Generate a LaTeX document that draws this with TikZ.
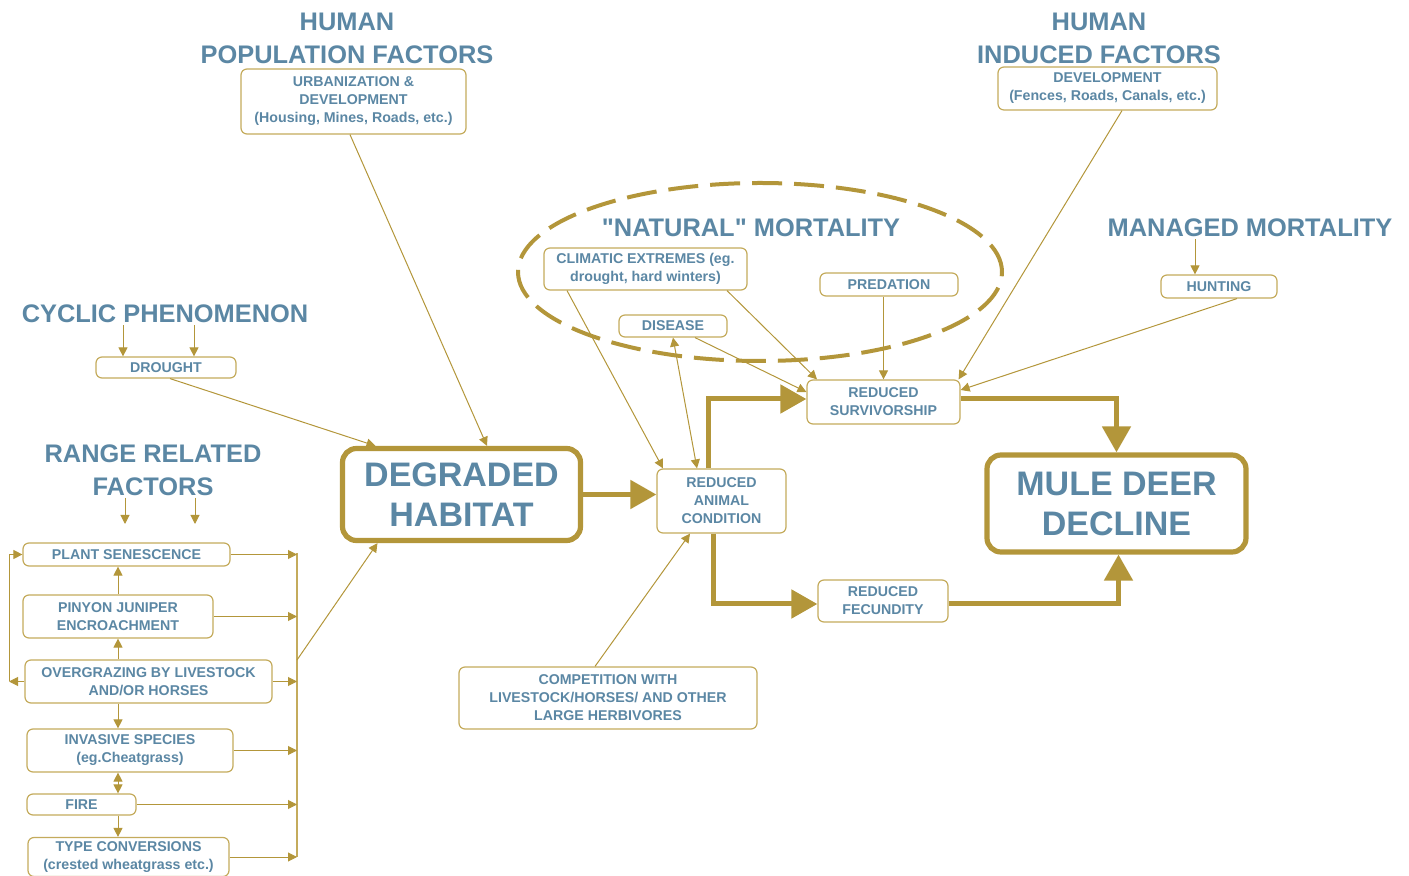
\documentclass[tikz,border=0pt]{standalone}
\usepackage{fontspec}
\setmainfont{Liberation Sans}[Ligatures=TeXOff]
\usetikzlibrary{arrows.meta, calc}
\usepackage{xcolor}
\definecolor{gold}{HTML}{B3963A}
\definecolor{goldline}{HTML}{C4AB5C}
\definecolor{slate}{HTML}{5B87A4}

\tikzset{
  factor/.style={draw=goldline, line width=0.6pt, rounded corners=3pt, fill=white,
    align=center, inner sep=0pt, text=slate, font=\bfseries\fontsize{7.1}{9}\selectfont},
  heading/.style={align=center, inner sep=1pt, text=slate,
    font=\bfseries\fontsize{12.7}{16.5}\selectfont},
  outcome/.style={draw=gold, line width=2.6pt, rounded corners=7pt, fill=white,
    align=center, inner sep=0pt, text=slate, font=\bfseries\fontsize{17}{20}\selectfont},
  link/.style={draw=gold, line width=0.5pt, -{Triangle[length=4.5pt,width=4.5pt]}},
  flow/.style={draw=gold, line width=2.5pt, -{Triangle[length=13pt,width=14pt]}},
}

\begin{document}
\begin{tikzpicture}[x=0.5pt, y=-0.5pt]
\useasboundingbox (0,0) rectangle (1409,876);

% headings
\node[heading] (hpop) at (347,38) {HUMAN\\POPULATION FACTORS};
\node[heading] (hind) at (1099,38) {HUMAN\\INDUCED FACTORS};
\node[heading] (natural) at (751,228) {"NATURAL" MORTALITY};
\node[heading] (managed) at (1250,228) {MANAGED MORTALITY};
\node[heading] (cyclic) at (165,314) {CYCLIC PHENOMENON};
\node[heading] (range) at (153,470) {RANGE RELATED\\FACTORS};

% natural mortality ring
\draw[gold, line width=2pt, dash pattern=on 15pt off 6pt] (760,272) ellipse [x radius=121pt, y radius=44.5pt];

% factor boxes
\node[factor, minimum width=112.5pt, minimum height=32.5pt] (urban) at (353.5,101.5) {URBANIZATION \&\\DEVELOPMENT\\(Housing, Mines, Roads, etc.)};
\node[factor, minimum width=109.5pt, minimum height=21.5pt] (devel) at (1107.5,88.5) {DEVELOPMENT\\(Fences, Roads, Canals, etc.)};
\node[factor, minimum width=101.5pt, minimum height=21pt] (climatic) at (645.5,269) {CLIMATIC EXTREMES (eg.\\drought, hard winters)};
\node[factor, minimum width=69pt, minimum height=11.5pt] (predation) at (889,284.5) {PREDATION};
\node[factor, minimum width=54pt, minimum height=11pt] (disease) at (673,326) {DISEASE};
\node[factor, minimum width=58pt, minimum height=11.5pt] (hunting) at (1219,286.5) {HUNTING};
\node[factor, minimum width=70pt, minimum height=10.5pt] (drought) at (166,367.5) {DROUGHT};
\node[factor, minimum width=76.5pt, minimum height=22pt] (surv) at (883.5,402) {REDUCED\\SURVIVORSHIP};
\node[factor, minimum width=64.5pt, minimum height=32pt] (animal) at (721.5,501) {REDUCED\\ANIMAL\\CONDITION};
\node[factor, minimum width=65pt, minimum height=21pt] (fec) at (883,601) {REDUCED\\FECUNDITY};
\node[factor, minimum width=149pt, minimum height=31pt] (comp) at (608,698) {COMPETITION WITH\\LIVESTOCK/HORSES/ AND OTHER\\LARGE HERBIVORES};

% range related factors
\node[factor, minimum width=103.5pt, minimum height=11.5pt] (plant) at (126.5,554.5) {PLANT SENESCENCE};
\node[factor, minimum width=95pt, minimum height=21.5pt] (pinyon) at (118,616.5) {PINYON JUNIPER\\ENCROACHMENT};
\node[factor, minimum width=123.5pt, minimum height=21.5pt] (over) at (148.5,681.5) {OVERGRAZING BY LIVESTOCK\\AND/OR HORSES};
\node[factor, minimum width=103pt, minimum height=21.5pt] (invasive) at (130,750.5) {INVASIVE SPECIES\\(eg.Cheatgrass)};
\node[factor, minimum width=54.5pt, minimum height=10.5pt] (fire) at (81.5,804.5) {FIRE};
\node[factor, minimum width=100.5pt, minimum height=19.5pt] (type) at (128.5,857) {TYPE CONVERSIONS\\(crested wheatgrass etc.)};

% outcomes
\node[outcome, minimum width=119pt, minimum height=46pt] (degraded) at (461.5,494.5) {DEGRADED\\HABITAT};
\node[outcome, minimum width=129.5pt, minimum height=48.5pt] (mule) at (1116.5,503.5) {MULE DEER\\DECLINE};

% heading arrows
\draw[link] ([xshift=-21.5pt]drought.north |- cyclic.south) -- ([xshift=-21.5pt]drought.north);
\draw[link] ([xshift=14pt]drought.north |- cyclic.south) -- ([xshift=14pt]drought.north);
\coordinate (rng1) at (125,524);
\coordinate (rng2) at (195,524);
\draw[link] (range.south -| rng1) -- (rng1);
\draw[link] (range.south -| rng2) -- (rng2);
\draw[link] ([xshift=-12pt]hunting.north |- managed.south) -- ([xshift=-12pt]hunting.north);

% range collector
\coordinate (bar) at (297,553);
\coordinate (barend) at (297,857);
\coordinate (barmid) at (297,660);
\draw[goldline, line width=0.6pt] (bar) -- (barend);
\foreach \n in {plant,pinyon,over,invasive,fire,type}
  \draw[link] (\n.east) -- (\n.east -| bar);
\draw[link] (barmid) -- ([xshift=-42pt]degraded.south);

\coordinate (loop) at (9,683);
\draw[link] (over.west) -- (over.west -| loop);
\draw[link] (over.west -| loop) |- (plant.west);
\draw[link] (pinyon.north) -- (pinyon.north |- plant.south);
\draw[link] (over.north -| pinyon.north) -- (pinyon.south);
\draw[link] (over.south -| pinyon.south) -- (invasive.north -| pinyon.south);
\draw[link, {Triangle[length=4.5pt,width=4.5pt]}-{Triangle[length=4.5pt,width=4.5pt]}] (invasive.south -| pinyon.south) -- (fire.north -| pinyon.south);
\draw[link] (fire.south -| pinyon.south) -- (type.north -| pinyon.south);

% into degraded habitat
\draw[link] ([xshift=-1.75pt]urban.south) -- ([xshift=12.75pt]degraded.north);
\draw[link] ([xshift=2pt]drought.south) -- ([xshift=-43pt]degraded.north);

% into animal condition and survivorship
\draw[link] ([xshift=-39.25pt]climatic.south) -- ([xshift=-29.25pt]animal.north);
\draw[link, {Triangle[length=4.5pt,width=4.5pt]}-{Triangle[length=4.5pt,width=4.5pt]}] (disease.south) -- ([xshift=-12.25pt]animal.north);
\draw[link] ([xshift=40.75pt]climatic.south) -- ([xshift=-33.25pt]surv.north);
\draw[link] ([xshift=11pt]disease.south) -- ([yshift=5pt]surv.west);
\draw[link] (predation.south -| surv.north) -- (surv.north);
\draw[link] ([xshift=7.25pt]devel.south) -- ([xshift=-1pt]surv.north east);
\draw[link] ([xshift=9pt]hunting.south) -- ([yshift=6pt]surv.east);
\draw[link] ([xshift=-6.5pt]comp.north) -- ([xshift=-15.75pt]animal.south);

% main flow
\draw[flow] (degraded.east) -- (degraded.east -| animal.west);
\draw[flow] ([xshift=-6.75pt]animal.north) |- ([yshift=1.5pt]surv.west);
\draw[flow] ([xshift=-4.25pt]animal.south) |- ([yshift=-1.5pt]fec.west);
\draw[flow] ([yshift=1.5pt]surv.east) -| (mule.north);
\draw[flow] ([yshift=-1.5pt]fec.east) -| ([xshift=1pt]mule.south);

\end{tikzpicture}
\end{document}
